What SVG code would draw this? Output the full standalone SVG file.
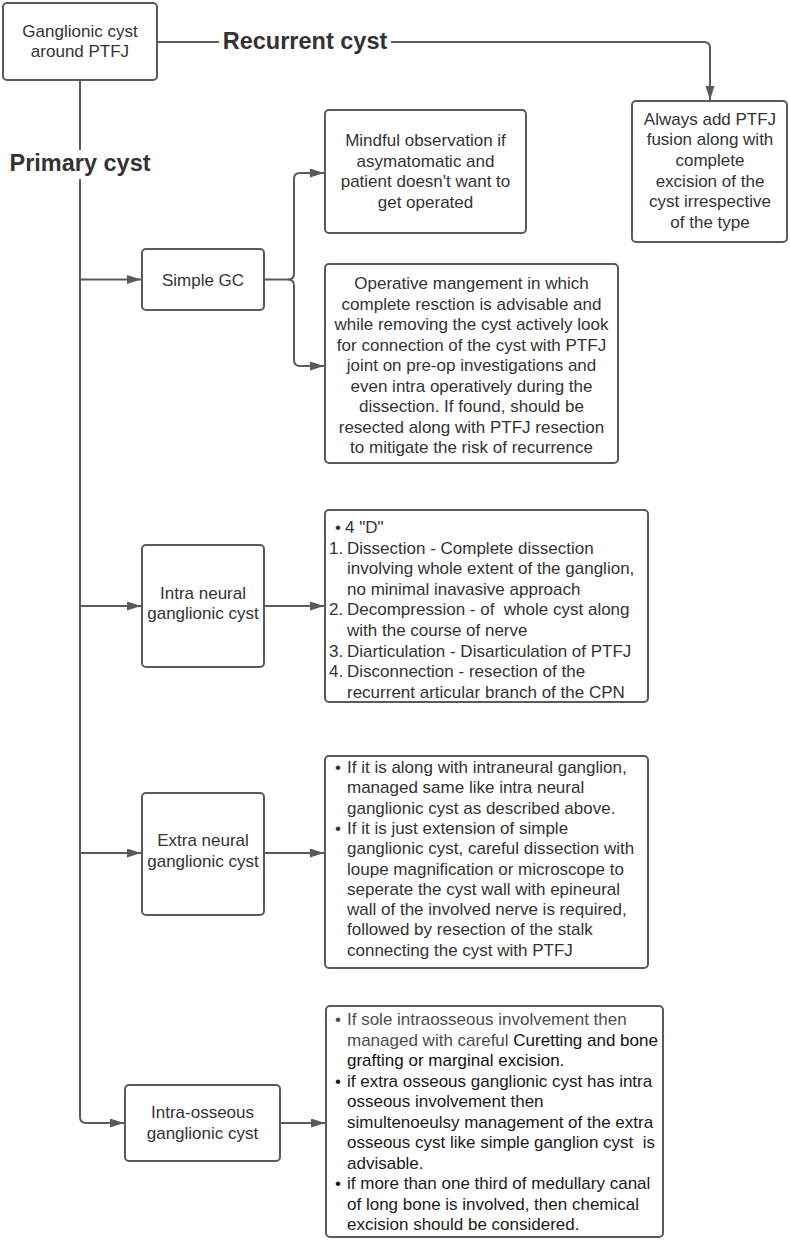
<svg xmlns="http://www.w3.org/2000/svg" width="790" height="1243" viewBox="0 0 790 1243">
<defs>
<marker id="ah" markerWidth="14" markerHeight="10" refX="14" refY="4.5" orient="auto" markerUnits="userSpaceOnUse">
<path d="M0,0 L14,4.5 L0,9 z" fill="#5a5a5a"/>
</marker>
<style>
.box{fill:#fff;stroke:#5a5a5a;stroke-width:2}
.t{font-family:"Liberation Sans",Arial,sans-serif;font-size:17px;fill:#333}
.c{text-anchor:middle}
.h{font-family:"Liberation Sans",Arial,sans-serif;font-size:23.5px;font-weight:bold;fill:#333;text-anchor:middle}
.ln{fill:none;stroke:#5a5a5a;stroke-width:2}
.a{marker-end:url(#ah)}
</style>
</defs>
<rect width="790" height="1243" fill="#fff"/>
<g id="connectors">
<path class="ln" d="M157 42 H219"/>
<path class="ln a" d="M391 42 H704 Q710 42 710 48 V100"/>
<path class="ln" d="M80 80 V150"/>
<path class="ln a" d="M80 179 V1117 Q80 1123 86 1123 H124"/>
<path class="ln a" d="M80 279.5 H141"/>
<path class="ln a" d="M80 606 H141"/>
<path class="ln a" d="M80 853 H141"/>
<path class="ln" d="M264 279.5 H288 Q294 279.5 294 273.5 V179 Q294 173 300 173 H310"/>
<path class="ln a" d="M300 173 H324"/>
<path class="ln a" d="M288 279.5 Q294 279.5 294 285.5 V360 Q294 366 300 366 H324"/>
<path class="ln a" d="M264 606 H324"/>
<path class="ln a" d="M264 853 H324"/>
<path class="ln a" d="M280 1123 H325"/>
<text class="h" x="305" y="48.5">Recurrent cyst</text>
<text class="h" x="80" y="170.5">Primary cyst</text>
</g>
<g id="root">
<rect class="box" x="3" y="3" width="154" height="77" rx="4"/>
<text class="t c" x="80" y="36.5">Ganglionic cyst</text>
<text class="t c" x="80" y="56.5">around PTFJ</text>
</g>
<g id="recurrent">
<rect class="box" x="632" y="101" width="155" height="141" rx="4"/>
<text class="t c" x="710" y="124.5">Always add PTFJ</text>
<text class="t c" x="710" y="145.2">fusion along with</text>
<text class="t c" x="710" y="165.9">complete</text>
<text class="t c" x="710" y="186.6">excision of the</text>
<text class="t c" x="710" y="207.3">cyst irrespective</text>
<text class="t c" x="710" y="228">of the type</text>
</g>
<g id="simple">
<rect class="box" x="142" y="249" width="122" height="61" rx="4"/>
<text class="t c" x="203" y="285.5">Simple GC</text>
</g>
<g id="mindful">
<rect class="box" x="325" y="110" width="201" height="123" rx="4"/>
<text class="t c" x="425.5" y="146">Mindful observation if</text>
<text class="t c" x="425.5" y="166.5">asymatomatic and</text>
<text class="t c" x="425.5" y="187">patient doesn't want to</text>
<text class="t c" x="425.5" y="207.5">get operated</text>
</g>
<g id="operative">
<rect class="box" x="325" y="264" width="293" height="199" rx="4"/>
<text class="t c" x="471.5" y="289">Operative mangement in which</text>
<text class="t c" x="471.5" y="309.5">complete resction is advisable and</text>
<text class="t c" x="471.5" y="330">while removing the cyst actively look</text>
<text class="t c" x="471.5" y="350.5">for connection of the cyst with PTFJ</text>
<text class="t c" x="471.5" y="371">joint on pre-op investigations and</text>
<text class="t c" x="471.5" y="391.5">even intra operatively during the</text>
<text class="t c" x="471.5" y="412">dissection. If found, should be</text>
<text class="t c" x="471.5" y="432.5">resected along with PTFJ resection</text>
<text class="t c" x="471.5" y="453">to mitigate the risk of recurrence</text>
</g>
<g id="intraneural">
<rect class="box" x="142" y="545" width="122" height="122" rx="4"/>
<text class="t c" x="203" y="598.5">Intra neural</text>
<text class="t c" x="203" y="619">ganglionic cyst</text>
</g>
<g id="fourD">
<rect class="box" x="325" y="510" width="323" height="192" rx="4"/>
<text class="t" x="335" y="533">•</text><text class="t" x="345" y="533">4 "D"</text>
<text class="t" x="329" y="553.5">1.</text><text class="t" x="347" y="553.5">Dissection - Complete dissection</text>
<text class="t" x="347" y="574.2">involving whole extent of the ganglion,</text>
<text class="t" x="347" y="594.8">no minimal inavasive approach</text>
<text class="t" x="329" y="615.4">2.</text><text class="t" x="347" y="615.4">Decompression - of&#160; whole cyst along</text>
<text class="t" x="347" y="636">with the course of nerve</text>
<text class="t" x="329" y="656.7">3.</text><text class="t" x="347" y="656.7">Diarticulation - Disarticulation of PTFJ</text>
<text class="t" x="329" y="677.3">4.</text><text class="t" x="347" y="677.3">Disconnection - resection of the</text>
<text class="t" x="347" y="698">recurrent articular branch of the CPN</text>
</g>
<g id="extraneural">
<rect class="box" x="142" y="793" width="122" height="122" rx="4"/>
<text class="t c" x="203" y="846">Extra neural</text>
<text class="t c" x="203" y="866.5">ganglionic cyst</text>
</g>
<g id="extratext">
<rect class="box" x="325" y="756" width="323" height="212" rx="4"/>
<text class="t" x="335" y="773">•</text><text class="t" x="347" y="773">If it is along with intraneural ganglion,</text>
<text class="t" x="347" y="793.3">managed same like intra neural</text>
<text class="t" x="347" y="813.6">ganglionic cyst as described above.</text>
<text class="t" x="335" y="833.9">•</text><text class="t" x="347" y="833.9">If it is just extension of simple</text>
<text class="t" x="347" y="854.2">ganglionic cyst, careful dissection with</text>
<text class="t" x="347" y="874.5">loupe magnification or microscope to</text>
<text class="t" x="347" y="894.8">seperate the cyst wall with epineural</text>
<text class="t" x="347" y="915.1">wall of the involved nerve is required,</text>
<text class="t" x="347" y="935.4">followed by resection of the stalk</text>
<text class="t" x="347" y="955.7">connecting the cyst with PTFJ</text>
</g>
<g id="intraosseous">
<rect class="box" x="125" y="1085" width="155" height="76" rx="4"/>
<text class="t c" x="202.5" y="1118">Intra-osseous</text>
<text class="t c" x="202.5" y="1138.5">ganglionic cyst</text>
</g>
<g id="osseoustext">
<rect class="box" x="326" y="1006" width="337" height="231" rx="4"/>
<text class="t" x="335" y="1025" style="fill:#4d4d4d">•</text><text class="t" x="347" y="1025" style="fill:#4d4d4d">If sole intraosseous involvement then</text>
<text class="t" x="347" y="1045.5"><tspan style="fill:#4d4d4d">managed with careful </tspan><tspan style="fill:#111">Curetting and bone</tspan></text>
<text class="t" x="347" y="1066" style="fill:#111">grafting or marginal excision.</text>
<text class="t" x="335" y="1086.5" style="fill:#1a1a1a">•</text><text class="t" x="347" y="1086.5" style="fill:#1a1a1a">if extra osseous ganglionic cyst has intra</text>
<text class="t" x="347" y="1107" style="fill:#1a1a1a">osseous involvement then</text>
<text class="t" x="347" y="1127.5" style="fill:#1a1a1a">simultenoeulsy management of the extra</text>
<text class="t" x="347" y="1148" style="fill:#1a1a1a">osseous cyst like simple ganglion cyst&#160; is</text>
<text class="t" x="347" y="1168.5" style="fill:#1a1a1a">advisable.</text>
<text class="t" x="335" y="1189" style="fill:#1a1a1a">•</text><text class="t" x="347" y="1189" style="fill:#1a1a1a">if more than one third of medullary canal</text>
<text class="t" x="347" y="1209.5" style="fill:#1a1a1a">of long bone is involved, then chemical</text>
<text class="t" x="347" y="1230" style="fill:#1a1a1a">excision should be considered.</text>
</g>
</svg>
